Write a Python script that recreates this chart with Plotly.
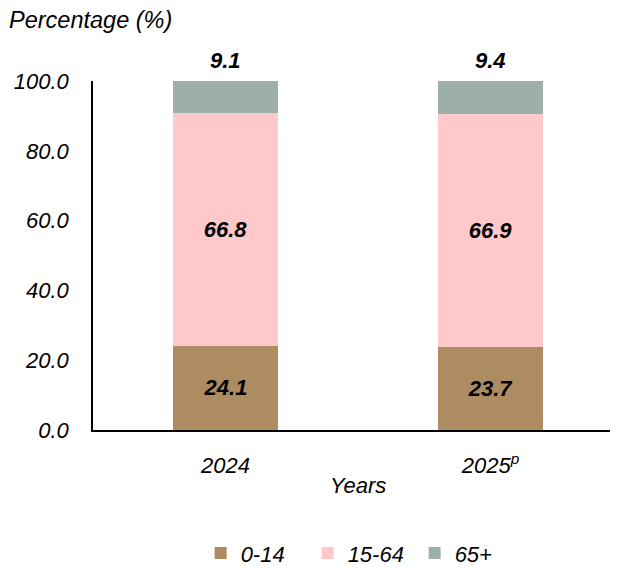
import plotly.graph_objects as go

years = ["2024", "2025<sup>p</sup>"]
age_groups = ["0-14", "15-64", "65+"]
val_0_14 = [24.1, 23.7]
val_15_64 = [66.8, 66.9]
val_65 = [9.1, 9.4]
colors = ["#AE8C62", "#FFC8CB", "#9DAFAB"]
y_ticks = [0, 20, 40, 60, 80, 100]

FONT = "Liberation Sans, Arial, sans-serif"
fig = go.Figure()
series = [val_0_14, val_15_64, val_65]
for name, vals, col in zip(age_groups, series, colors):
    is_top = name == "65+"
    fig.add_trace(go.Bar(
        x=years, y=vals, name=name, marker=dict(color=col, line=dict(width=0)),
        width=0.396,
        text=None if is_top else [f"<b><i>{v:.1f}</i></b>" for v in vals],
        textposition="inside" if not is_top else "none", insidetextanchor="middle",
        textfont=dict(family=FONT, size=22, color="black"),
        hoverinfo="skip",
    ))

totals = [round(a + b + c, 6) for a, b, c in zip(*series)]
for i, (t, v) in enumerate(zip(totals, val_65)):
    fig.add_annotation(x=i, y=min(t, 100), xref="x", yref="y", text=f"<b><i>{v:.1f}</i></b>",
                       showarrow=False, yanchor="bottom", yshift=6,
                       font=dict(family=FONT, size=22, color="black"))

fig.add_annotation(xref="paper", yref="paper", x=-0.163, y=1.175, xanchor="left", yanchor="middle",
                   text="<i>Percentage (%)</i>", showarrow=False,
                   font=dict(family=FONT, size=23.5, color="black"))

fig.add_annotation(xref="x", yref="paper", x=0.5, y=-0.158, xanchor="center", yanchor="middle",
                   text="<i>Years</i>", showarrow=False,
                   font=dict(family=FONT, size=22, color="black"))

fig.update_layout(
    width=610, height=562, barmode="stack",
    margin=dict(l=85, r=0, t=73, b=140),
    plot_bgcolor="white", paper_bgcolor="white",
    font=dict(family=FONT, size=22, color="black"),
    showlegend=True,
    legend=dict(orientation="h", x=0.205, xanchor="left", yref="container", y=0.03, yanchor="middle",
                font=dict(family=FONT, size=22, style="italic"),
                entrywidth=62, entrywidthmode="pixels",
                traceorder="normal"),
    xaxis=dict(type="category", range=[-0.5, 1.481], showline=True, linecolor="black", linewidth=1.5,
               tickfont=dict(family=FONT, size=22, style="italic"), ticks="",
               ticklabelstandoff=15, automargin=False,
               showgrid=False),
    yaxis=dict(range=[0, 100], tickvals=y_ticks, ticktext=[f"{v:.1f}" for v in y_ticks],
               showline=True, linecolor="black", linewidth=1.5, ticks="",
               ticklabelstandoff=18, showgrid=False, zeroline=False, automargin=False,
               tickfont=dict(family=FONT, size=22, style="italic")),
)
fig.write_html("out.html")
